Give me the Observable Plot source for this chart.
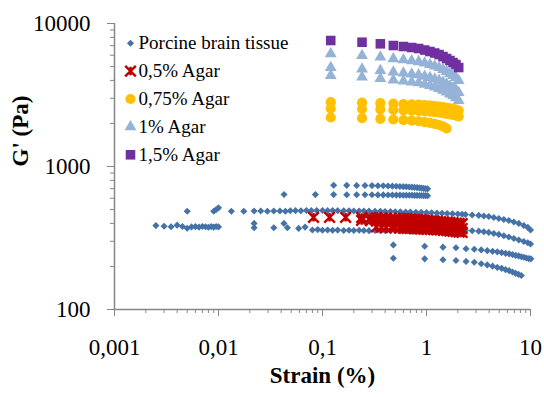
<!DOCTYPE html>
<html><head><meta charset="utf-8">
<script src="https://cdn.jsdelivr.net/npm/d3@7"></script>
<script src="https://cdn.jsdelivr.net/npm/@observablehq/plot@0.6"></script>
<style>html,body{margin:0;padding:0;background:#fff}#chart svg{display:block}#chart svg text{font-family:'Liberation Serif','Times New Roman',serif}</style>
</head><body><div id="chart"></div>
<script>
// ---------- axis ticks ----------
const xMajor = [0.001, 0.01, 0.1, 1, 10];
const xLabels = ["0,001", "0,01", "0,1", "1", "10"];
const xMinor = [0.002,0.003,0.004,0.005,0.006,0.007,0.008,0.009,
                0.02,0.03,0.04,0.05,0.06,0.07,0.08,0.09,
                0.2,0.3,0.4,0.5,0.6,0.7,0.8,0.9,
                2,3,4,5,6,7,8,9];
const yMajor = [100, 1000, 10000];
const yMinor = [200,300,400,500,600,700,800,900,2000,3000,4000,5000,6000,7000,8000,9000];
const seriesNames = ["Porcine brain tissue", "0,5% Agar", "0,75% Agar", "1% Agar", "1,5% Agar"];

// ---------- strain values (%) ----------
const strainLow = [0.0025,0.003,0.0035,0.004,0.0045,0.005,0.0055,0.006,0.0065,0.007,0.0075,0.008,0.0085,0.009,0.0095,0.01];
const strainUpper = [0.005,0.009,0.0095,0.01,0.0133,0.0175,0.022,0.0255,0.0295,0.034,0.039,0.044,
  0.049,0.055,0.062,0.07,0.078,0.088,0.1,0.112,0.125,0.14,0.16,0.18,0.2,0.225,0.25,0.28,
  0.32,0.36,0.4,0.45,0.5,0.56,0.63,0.7,0.79,0.89,1.0,1.12,1.26,1.41,1.58,1.78,2.0,2.2];
const strainLower = [0.022,0.034,0.046,0.059,0.068,0.08,0.09,0.1,0.112,0.125,0.14,0.16,0.18,0.2,0.225,
  0.25,0.28,0.32,0.36,0.4,0.45,0.5,0.56,0.63,0.7,0.79,0.89,1.0,1.12,1.26,1.41,1.58,1.78,2.0,2.2];
const strainLowerA = [0.022, 0.0426];
const strainTail = [2.37,2.75,3.18,3.56,3.97,4.44,4.96,5.54,6.19,6.92,7.72,8.62,9.42,10];
const strainRow1 = [0.128,0.171,0.213,0.256,0.299,0.341,0.384,0.427,0.47,0.512,0.555,0.598,0.64,0.683,0.726,0.768,0.811,0.854,0.896,0.939,0.982,1.025];
const strainRow2 = [0.0427,0.0854,0.128,0.171,0.213,0.256,0.299,0.341,0.384,0.427,0.47,0.512,0.555,0.598,0.64,0.683,0.726,0.768,0.811,0.854,0.896,0.939,0.982,1.025];
const strainRow3 = [0.48,0.96,1.44,1.92,2.4,2.88,3.36,3.84,4.32,4.8,5.28,5.76,6.24,6.72,7.2,7.68,8.16,8.64,9.12,9.6,10.08];
const strainRow4 = [0.48,0.96,1.44,1.92,2.4,2.88,3.36,3.84,4.32,4.8,5.28,5.76,6.24,6.72,7.2,7.68,8.16];
const strainRed1 = [0.082,0.117,0.167,0.238,0.29,0.33,0.37,0.41,0.46,0.5,0.55,0.6,0.65,0.7,0.76,0.82,0.88,0.95,1.02,1.1,1.18,1.27,1.36,1.46,1.57,1.68,1.8,1.93,2.06,2.2];
const strainRed2 = [0.238,0.29,0.33,0.37,0.41,0.46,0.5,0.55,0.6,0.65,0.7,0.76,0.82,0.88,0.95,1.02,1.1,1.18,1.27,1.36,1.46,1.57,1.68,1.8,1.93,2.06,2.2];
const strainRed3 = [0.33,0.37,0.41,0.46,0.5,0.55,0.6,0.65,0.7,0.76,0.82,0.88,0.95,1.02,1.1,1.18,1.27,1.36,1.46,1.57,1.68,1.8,1.93,2.06,2.2];
const strainAgar = [0.12,0.24,0.36,0.48,0.6,0.72,0.84,0.96,1.08,1.2,1.32,1.44,1.56,1.68,1.8,1.92,2.04];
const strainAgarShort = [0.12,0.24,0.36,0.48,0.6,0.72,0.84,0.96,1.08,1.2,1.32,1.44,1.56];

// ---------- G' values (Pa) ----------
// Porcine brain tissue
const brainLow = [386,382,379,389,381,370,378,380,377,381,379,376,380,377,381,378];
const brainUpper = [487,487,500,514,487,487,488,489,487,488,489,487,490,491,490,492,491,492,492,491,492,491,490,490,489,489,488,488,
  487,486,485,484,483,482,481,480,479,478,476,475,473,471,469,467,465,463];
const brainUpperTail = [462,458,455,451,447,440,433,426,419,409,400,387,375,360];
const brainLower = [373,373,373,369,377,360,362,358,360,358,359,357,358,357,358,357,356,357,356,356,355,355,354,354,353,352,352,351,350,349,348,347,346,345,344];
const brainLowerA = [400, 400];
const brainLowerTail = [357,355,353,350,346,340,335,328,321,314,306,299,293,287];
const brainRow1 = [740,738,737,736,735,734,733,731,729,727,725,723,721,719,717,714,712,709,706,703,700,698];
const brainRow2 = [637,636,636,635,635,634,634,633,633,632,632,631,631,630,630,629,629,628,628,627,627,626,626,625];
const brainRow3 = [283,277,273,270,266,264,261,258,255,253,250,247,245,242,239,237,234,232,229,227,226];
const brainRow4 = [228,226,223,220,217,214,209,205,201,197,194,190,187,183,179,176,173];
// 0,5% Agar
const agar05a = [441,441,441,440,439,438,437,436,435,434,433,432,431,429,428,426,424,422,420,418,416,414,412,410,408,406,404,402,400,398];
const agar05b = [420,418,416,414,412,410,408,406,404,402,400,398,396,394,392,390,388,386,384,382,380,378,376,374,372,370,368];
const agar05c = [378,376,375,374,373,372,371,370,369,368,367,366,365,364,363,362,361,360,358,356,354,352,350,348,346];
// 0,75% Agar
const agar075a = [2817,2793,2771,2748,2734,2721,2707,2686,2667,2647,2627,2601,2576,2550,2525,2500,2464];
const agar075b = [2544,2524,2505,2485,2473,2461,2449,2431,2414,2397,2379,2357,2334,2312,2291,2269,2237];
const agar075c = [2201,2178,2155,2132,2113,2094,2072,2046,2018,1986,1951,1910,1844];
// 1% Agar
const agar1a = [6139,5974,5825,5670,5581,5492,5405,5277,5153,5031,4912,4758,4609,4465,4324,4189,3994];
const agar1b = [4924,4801,4688,4571,4503,4436,4371,4273,4181,4087,3996,3878,3764,3654,3546,3442,3292];
const agar1c = [4328,4221,4122,4018,3959,3900,3843,3757,3675,3593,3513,3409,3310,3213,3118,3027,2894];
// 1,5% Agar
const agar15 = [7603,7398,7210,7015,6902,6792,6685,6523,6369,6216,6066,5874,5688,5508,5333,5164,4920];

// ---------- build tables ----------
const pts = (xs, ys) => ys.map((g, i) => ({strain: xs[i], g}));
const brain = [
  ...pts(strainLow, brainLow), ...pts(strainUpper, brainUpper), ...pts(strainTail, brainUpperTail),
  ...pts(strainLower, brainLower), ...pts(strainLowerA, brainLowerA), ...pts(strainTail, brainLowerTail),
  ...pts(strainRow1, brainRow1), ...pts(strainRow2, brainRow2), ...pts(strainRow3, brainRow3), ...pts(strainRow4, brainRow4)
];
const red = [...pts(strainRed1, agar05a), ...pts(strainRed2, agar05b), ...pts(strainRed3, agar05c)];
const yellow = [...pts(strainAgar, agar075a), ...pts(strainAgar, agar075b), ...pts(strainAgarShort, agar075c)];
const lblue = [...pts(strainAgar, agar1a), ...pts(strainAgar, agar1b), ...pts(strainAgar, agar1c)];
const purple = pts(strainAgar, agar15);

const axisGray = "#868686";
const colors = ["#4572A7", "#C00000", "#FFC000", "#95B3D7", "#7030A0"];
// Excel-like "star" marker: X plus vertical bar
const starX = {draw(ctx, size) {
  const s = Math.sqrt(size) / 2;
  ctx.moveTo(-s, -s); ctx.lineTo(s, s);
  ctx.moveTo(s, -s); ctx.lineTo(-s, s);
  ctx.moveTo(0, -s * 0.8); ctx.lineTo(0, s * 0.8);
}};
const markStyles = [
  {symbol: "diamond2", r: 3.2, fill: colors[0]},
  {symbol: starX, r: 6.0, fill: "none", stroke: colors[1], strokeWidth: 2.4},
  {symbol: "circle", r: 5.1, fill: colors[2]},
  {symbol: "triangle", r: 4.4, fill: colors[3]},
  {symbol: "square", r: 5.4, fill: colors[4]}
];
const dataSets = [brain, red, yellow, lblue, purple];

const fmtX = new Map(xMajor.map((d, i) => [d, xLabels[i]]));
const serif = "'Liberation Serif', 'Times New Roman', serif";

const legendMarks = seriesNames.flatMap((name, i) => [
  Plot.dot([name], {frameAnchor: "top-left", dx: 16, dy: 19.7 + 27.9 * i, ...markStyles[i]}),
  Plot.text([name], {frameAnchor: "top-left", dx: 24, dy: 19.7 + 27.9 * i, text: d => d, textAnchor: "start", lineAnchor: "middle", fontSize: 19, fontFamily: serif, fill: "black"})
]);

const chart = Plot.plot({
  width: 544, height: 397,
  marginLeft: 114, marginRight: 14, marginTop: 23, marginBottom: 88,
  x: {type: "log", domain: [0.001, 10]},
  y: {type: "log", domain: [100, 10000]},
  style: {fontFamily: serif, background: "white", color: "black", overflow: "visible"},
  marks: [
    Plot.axisY(yMinor, {tickSize: 4, fill: "none", stroke: axisGray, label: null}),
    Plot.axisY(yMajor, {tickSize: 7, tickPadding: 17, tickFormat: d => String(d), fontSize: 23, fontFamily: serif, fontVariant: "normal", stroke: axisGray, fill: "black", label: null}),
    Plot.axisX(xMinor, {tickSize: 4, fill: "none", stroke: axisGray, label: null}),
    Plot.axisX(xMajor, {tickSize: 7, tickPadding: 22, tickFormat: d => fmtX.get(d), fontSize: 23, fontFamily: serif, fontVariant: "normal", stroke: axisGray, fill: "black", label: null}),
    Plot.ruleY([100], {stroke: axisGray, strokeWidth: 1.5}),
    Plot.ruleX([0.001], {stroke: axisGray, strokeWidth: 1.5}),
    ...dataSets.map((ds, i) => Plot.dot(ds, {x: "strain", y: "g", ...markStyles[i]})),
    ...legendMarks,
    Plot.text(["Strain (%)"], {frameAnchor: "bottom", dy: 73, text: d => d, fontSize: 23, fontWeight: "bold", fontFamily: serif, fill: "black"}),
    Plot.text(["G' (Pa)"], {frameAnchor: "left", dx: -94, rotate: -90, text: d => d, fontSize: 23, fontWeight: "bold", fontFamily: serif, fill: "black"})
  ]
});
document.getElementById("chart").appendChild(chart);
</script>
</body></html>
